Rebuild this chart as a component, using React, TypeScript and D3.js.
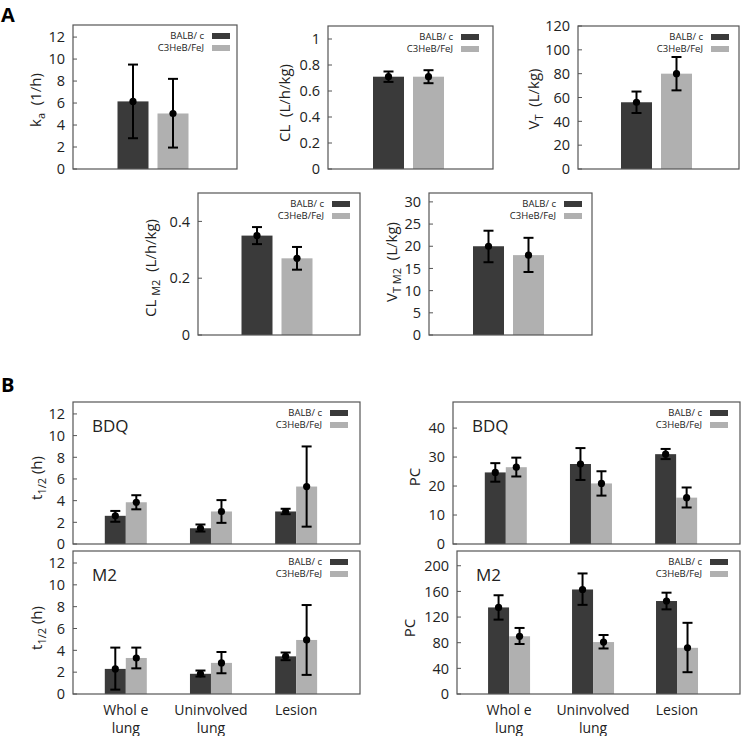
import React from "react";
import * as d3 from "d3";

// strains (legend) and bar colours
const strains = ["BALB/ c", "C3HeB/FeJ"];
const barColors = ["#3a3a3a", "#b0b0b0"];

// panel A : one group per panel, [BALB/c, C3HeB/FeJ]
const kaMean = [6.15, 5.05];
const kaLo = [2.8, 1.95];
const kaHi = [9.5, 8.2];

const clMean = [0.71, 0.71];
const clLo = [0.67, 0.66];
const clHi = [0.75, 0.76];

const vtMean = [56, 80];
const vtLo = [47, 66];
const vtHi = [65, 94];

const clM2Mean = [0.35, 0.27];
const clM2Lo = [0.32, 0.23];
const clM2Hi = [0.38, 0.31];

const vtM2Mean = [20, 18];
const vtM2Lo = [16.4, 14.2];
const vtM2Hi = [23.5, 21.9];

// panel B : three tissues
const tissues = [["Whol e", "lung"], ["Uninvolved", "lung"], ["Lesion"]];

const bdqHalfBalb = [2.6, 1.45, 3.0];
const bdqHalfBalbLo = [2.05, 1.15, 2.75];
const bdqHalfBalbHi = [3.05, 1.8, 3.25];
const bdqHalfC3 = [3.85, 3.0, 5.3];
const bdqHalfC3Lo = [3.2, 1.95, 1.6];
const bdqHalfC3Hi = [4.5, 4.05, 9.0];

const m2HalfBalb = [2.3, 1.85, 3.45];
const m2HalfBalbLo = [0.4, 1.6, 3.1];
const m2HalfBalbHi = [4.25, 2.15, 3.8];
const m2HalfC3 = [3.3, 2.85, 4.95];
const m2HalfC3Lo = [2.35, 1.9, 1.75];
const m2HalfC3Hi = [4.25, 3.85, 8.15];

const bdqPcBalb = [24.7, 27.6, 31.0];
const bdqPcBalbLo = [21.5, 22.1, 29.3];
const bdqPcBalbHi = [27.9, 33.1, 32.8];
const bdqPcC3 = [26.5, 20.9, 16.0];
const bdqPcC3Lo = [23.3, 16.7, 12.6];
const bdqPcC3Hi = [29.8, 25.1, 19.5];

const m2PcBalb = [135, 163, 145];
const m2PcBalbLo = [116, 139, 132];
const m2PcBalbHi = [154, 188, 158];
const m2PcC3 = [90, 81, 72];
const m2PcC3Lo = [78, 71, 34];
const m2PcC3Hi = [103, 92, 111];

const FONT = "'Open Sans', 'DejaVu Sans', sans-serif";
const NB = "\u00a0";

type Seg = { t: string; sub?: boolean };
type Series = { mean: number[]; lo: number[]; hi: number[] };

// split [balb, c3] arrays into two one-bar series
const single = (mean: number[], lo: number[], hi: number[]): Series[] =>
  strains.map((_, k) => ({ mean: [mean[k]], lo: [lo[k]], hi: [hi[k]] }));

function YLabel({ x, y, segs }: { x: number; y: number; segs: Seg[] }) {
  let shifted = false;
  return (
    <text transform={`translate(${x},${y}) rotate(-90)`} textAnchor="middle" fontSize={15} fill="#222">
      {segs.map((s, i) => {
        let dy = 0;
        if (s.sub && !shifted) { dy = 4; shifted = true; }
        else if (!s.sub && shifted) { dy = -4; shifted = false; }
        return (
          <tspan key={i} dy={dy} fontSize={s.sub ? 11 : 15}>{s.t}</tspan>
        );
      })}
    </text>
  );
}

type PanelProps = {
  x0: number; y0: number; x1: number; y1: number;
  yMax: number; ticks: number[];
  label: Seg[]; lx: number; ly: number;
  series: Series[];
  grouped?: boolean;
  tag?: string;
  xLabels?: boolean;
  legendRight?: number;
};

function Panel(p: PanelProps) {
  const y = d3.scaleLinear().domain([0, p.yMax]).range([p.y1, p.y0]);
  const n = p.series[0].mean.length;

  // x positions
  let center: (g: number) => number;
  let inner: d3.ScaleBand<string>;
  if (p.grouped) {
    const xg = d3.scaleLinear().domain([-0.62, 2.75]).range([p.x0, p.x1]);
    center = (g) => xg(g);
    inner = d3.scaleBand<string>().domain(strains).range([-21, 21]).padding(0);
  } else {
    const c = (p.x0 + p.x1) / 2 - 2;
    center = () => c;
    inner = d3.scaleBand<string>().domain(strains).range([-35.5, 35.5]).paddingInner(0.225).paddingOuter(0);
  }
  const bw = inner.bandwidth();
  const lr = p.x1 - (p.legendRight ?? 10);

  return (
    <g fontFamily={FONT}>
      {/* bars */}
      {d3.range(n).map((g) =>
        p.series.map((s, k) => (
          <rect key={`b${g}-${k}`} x={center(g) + (inner(strains[k]) as number)} y={y(s.mean[g])}
            width={bw} height={p.y1 - y(s.mean[g])} fill={barColors[k]} />
        ))
      )}
      {/* error bars */}
      {d3.range(n).map((g) =>
        p.series.map((s, k) => {
          const cx = center(g) + (inner(strains[k]) as number) + bw / 2;
          return (
            <g key={`e${g}-${k}`} stroke="#000" strokeWidth={2}>
              <line x1={cx} x2={cx} y1={y(s.lo[g])} y2={y(s.hi[g])} />
              <line x1={cx - 5} x2={cx + 5} y1={y(s.lo[g])} y2={y(s.lo[g])} />
              <line x1={cx - 5} x2={cx + 5} y1={y(s.hi[g])} y2={y(s.hi[g])} />
              <circle cx={cx} cy={y(s.mean[g])} r={3.6} fill="#000" stroke="none" />
            </g>
          );
        })
      )}
      {/* frame */}
      <rect x={p.x0} y={p.y0} width={p.x1 - p.x0} height={p.y1 - p.y0} fill="none" stroke="#555" strokeWidth={1.2} />
      {/* y ticks, pointing inward */}
      {p.ticks.map((t) => (
        <g key={`t${t}`}>
          <line x1={p.x0} x2={p.x0 + 4} y1={y(t)} y2={y(t)} stroke="#555" strokeWidth={1} />
          <text x={p.x0 - 8} y={y(t)} dy="0.36em" textAnchor="end" fontSize={14.5} fill="#222">{String(t)}</text>
        </g>
      ))}
      <YLabel x={p.lx} y={p.ly} segs={p.label} />
      {/* legend */}
      {strains.map((s, k) => (
        <g key={`l${k}`}>
          <rect x={lr - 18} y={p.y0 + 8 + k * 12} width={18} height={6} fill={barColors[k]} />
          <text x={lr - 26} y={p.y0 + 11 + k * 12} dy="0.35em" textAnchor="end" fontSize={9.5} fill="#222">{s}</text>
        </g>
      ))}
      {p.tag && (
        <text x={p.x0 + 19} y={p.y0 + 30} fontSize={17} fill="#222">{p.tag}</text>
      )}
      {p.xLabels && tissues.map((lines, g) =>
        lines.map((l, i) => (
          <text key={`x${g}-${i}`} x={center(g)} y={p.y1 + 21 + i * 18} textAnchor="middle" fontSize={14} fill="#222">{l}</text>
        ))
      )}
    </g>
  );
}

export default function App() {
  return (
    <div style={{ position: "absolute", left: 0, top: 0 }}>
      <svg width={741} height={736} style={{ display: "block", background: "#fff" }}>
        <text x={1} y={22} fontSize={20} fontWeight="bold" fontFamily={FONT}>A</text>
        <text x={1} y={392} fontSize={20} fontWeight="bold" fontFamily={FONT}>B</text>

        <Panel x0={73} y0={25} x1={237} y1={169} yMax={13.1} ticks={[0, 2, 4, 6, 8, 10, 12]}
          label={[{ t: "k" }, { t: "a", sub: true }, { t: `${NB}${NB}(1/h)` }]} lx={41} ly={100}
          series={single(kaMean, kaLo, kaHi)} legendRight={7} />

        <Panel x0={328} y0={26} x1={493} y1={169} yMax={1.1} ticks={[0, 0.2, 0.4, 0.6, 0.8, 1]}
          label={[{ t: `CL${NB}${NB}(L/h/kg)` }]} lx={290} ly={103}
          series={single(clMean, clLo, clHi)} legendRight={14} />

        <Panel x0={578} y0={26} x1={739} y1={169} yMax={120} ticks={[0, 20, 40, 60, 80, 100, 120]}
          label={[{ t: "V" }, { t: "T", sub: true }, { t: `${NB}${NB}(L/kg)` }]} lx={539} ly={99}
          series={single(vtMean, vtLo, vtHi)} legendRight={10} />

        <Panel x0={198} y0={193} x1={360} y1={335} yMax={0.5} ticks={[0, 0.2, 0.4]}
          label={[{ t: `CL${NB}` }, { t: "M2", sub: true }, { t: `${NB}${NB}(L/h/kg)` }]} lx={156} ly={268}
          series={single(clM2Mean, clM2Lo, clM2Hi)} legendRight={10} />

        <Panel x0={429} y0={193} x1={592} y1={335} yMax={32} ticks={[0, 5, 10, 15, 20, 25, 30]}
          label={[{ t: "V" }, { t: `T${NB}M2`, sub: true }, { t: `${NB}${NB}(L/kg)` }]} lx={397} ly={262}
          series={single(vtM2Mean, vtM2Lo, vtM2Hi)} legendRight={10} />

        <Panel x0={73} y0={402} x1={360} y1={544} yMax={13.1} ticks={[0, 2, 4, 6, 8, 10, 12]}
          label={[{ t: "t" }, { t: "1/2", sub: true }, { t: `${NB}(h)` }]} lx={42} ly={478}
          grouped tag="BDQ" legendRight={12}
          series={[
            { mean: bdqHalfBalb, lo: bdqHalfBalbLo, hi: bdqHalfBalbHi },
            { mean: bdqHalfC3, lo: bdqHalfC3Lo, hi: bdqHalfC3Hi },
          ]} />

        <Panel x0={73} y0={551} x1={360} y1={694} yMax={13.1} ticks={[0, 2, 4, 6, 8, 10, 12]}
          label={[{ t: "t" }, { t: "1/2", sub: true }, { t: `${NB}(h)` }]} lx={42} ly={628}
          grouped tag="M2" xLabels legendRight={12}
          series={[
            { mean: m2HalfBalb, lo: m2HalfBalbLo, hi: m2HalfBalbHi },
            { mean: m2HalfC3, lo: m2HalfC3Lo, hi: m2HalfC3Hi },
          ]} />

        <Panel x0={453} y0={402} x1={740} y1={544} yMax={49} ticks={[0, 10, 20, 30, 40]}
          label={[{ t: "PC" }]} lx={420} ly={477}
          grouped tag="BDQ" legendRight={12}
          series={[
            { mean: bdqPcBalb, lo: bdqPcBalbLo, hi: bdqPcBalbHi },
            { mean: bdqPcC3, lo: bdqPcC3Lo, hi: bdqPcC3Hi },
          ]} />

        <Panel x0={457} y0={551} x1={740} y1={694} yMax={223} ticks={[0, 40, 80, 120, 160, 200]}
          label={[{ t: "PC" }]} lx={415} ly={628}
          grouped tag="M2" xLabels legendRight={12}
          series={[
            { mean: m2PcBalb, lo: m2PcBalbLo, hi: m2PcBalbHi },
            { mean: m2PcC3, lo: m2PcC3Lo, hi: m2PcC3Hi },
          ]} />
      </svg>
    </div>
  );
}
